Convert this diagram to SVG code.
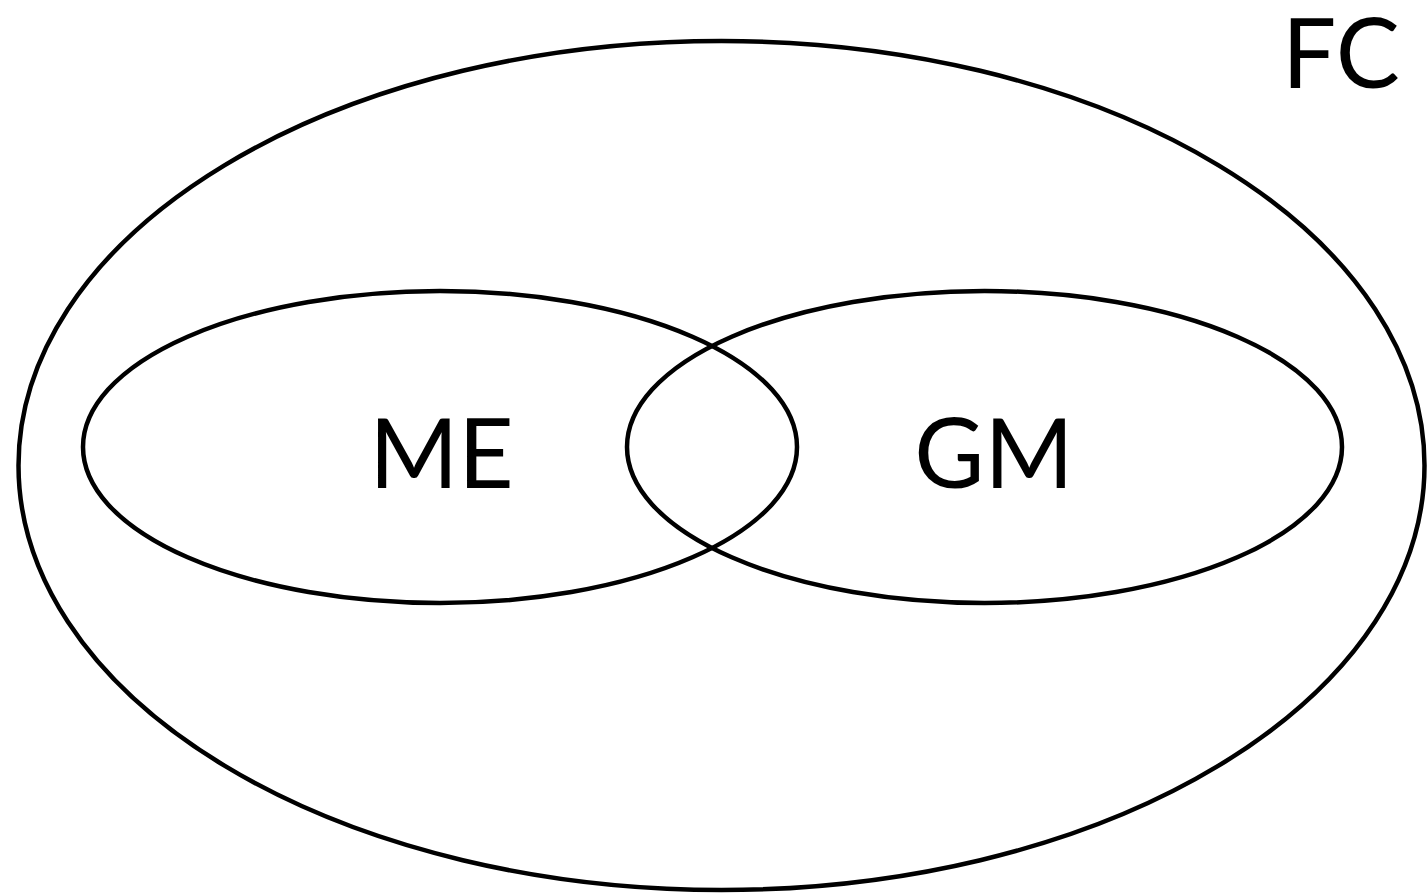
<svg xmlns="http://www.w3.org/2000/svg" width="1427" height="896" viewBox="0 0 1427 896">
<style>
.set{fill:none;stroke:#000;stroke-width:4.5}
.lbl{font-family:Lato,"Liberation Sans",sans-serif;font-size:96px;fill:#000}
</style>
<rect width="1427" height="896" fill="#fff"/>
<g id="FC">
<ellipse class="set" cx="721.5" cy="465.5" rx="703" ry="424.5"/>
<text class="lbl" x="1341" y="88" text-anchor="middle">FC</text>
</g>
<g id="ME">
<ellipse class="set" cx="440" cy="447" rx="357" ry="156"/>
<text class="lbl" x="441.5" y="488" text-anchor="middle">ME</text>
</g>
<g id="GM">
<ellipse class="set" cx="984.5" cy="447" rx="357.5" ry="156"/>
<text class="lbl" x="994" y="488" text-anchor="middle">GM</text>
</g>
<g id="connectors"/>
</svg>
